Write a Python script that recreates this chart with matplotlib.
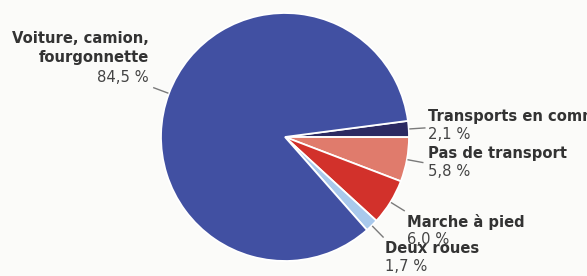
import numpy as np
import matplotlib.pyplot as plt

# order: clockwise from the small slice at the right
labels = ['Transports en commun', 'Pas de transport', 'Marche à pied', 'Deux roues',
          'Voiture, camion,\nfourgonnette']
values = [2.1, 5.8, 6.0, 1.7, 84.5]
pct_text = ['2,1 %', '5,8 %', '6,0 %', '1,7 %', '84,5 %']
colors = ['#2c2a62', '#e07b6c', '#d2312b', '#a9c9ec', '#4150a2']

W, H = 587, 276
bg = '#fbfbf9'
fig = plt.figure(figsize=(W / 100, H / 100), dpi=100, facecolor=bg)

# pie centre (285, 137) px, radius 124 px
cx, cy, r = 285, 137, 124
ax = fig.add_axes([(cx - r) / W, (H - cy - r) / H, 2 * r / W, 2 * r / H])
ax.set_facecolor(bg)

start = 360 * values[0] / 100 * 0.99
wedges, _ = ax.pie(values, colors=colors, startangle=start, counterclock=False,
                   wedgeprops=dict(edgecolor='white', linewidth=1.3))
ax.set_xlim(-1, 1)
ax.set_ylim(-1, 1)
ax.set_aspect('equal')
ax.axis('off')

# short radial leader lines
for w in wedges:
    mid = np.deg2rad((w.theta1 + w.theta2) / 2)
    ax.plot([1.01 * np.cos(mid), 1.13 * np.cos(mid)],
            [1.01 * np.sin(mid), 1.13 * np.sin(mid)],
            color='#7a7a7a', lw=1, clip_on=False)

# label positions (px, top-left origin): name and percentage
name_pos = [(428, 109), (428, 146), (407, 214), (385, 241), (149, 31)]
pct_pos = [(428, 127), (428, 164), (407, 232), (385, 259), (149, 70)]
fs = 10.6
for i in range(len(labels)):
    ha = 'right' if i == 4 else 'left'
    x, y = name_pos[i]
    fig.text(x / W, 1 - y / H, labels[i], ha=ha, va='top', fontsize=fs,
             fontweight='bold', color='#333333', linespacing=1.3)
    x, y = pct_pos[i]
    fig.text(x / W, 1 - y / H, pct_text[i], ha=ha, va='top', fontsize=fs,
             color='#444444')

fig.savefig('out.png', dpi=100, facecolor=bg)
